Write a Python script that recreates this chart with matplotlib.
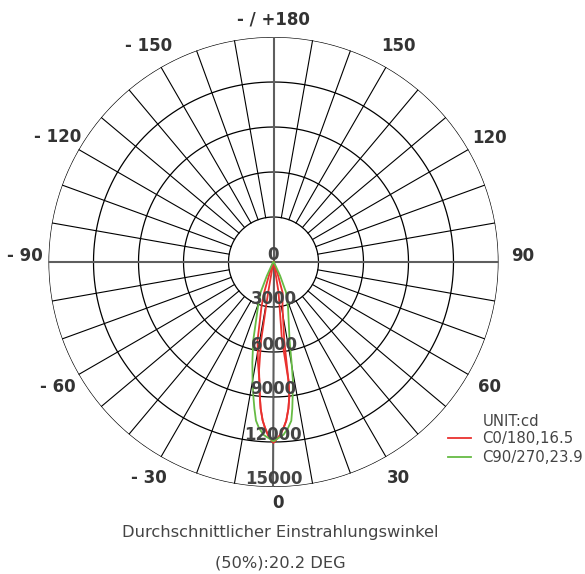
import numpy as np
import matplotlib
matplotlib.use("Agg")
import matplotlib.pyplot as plt
from matplotlib import transforms

# ---------------- data ----------------
ring_values = [0, 3000, 6000, 9000, 12000, 15000]
angle_ticks = [0, 30, 60, 90, 120, 150, 180, -150, -120, -90, -60, -30]
angle_labels = ["0", "30", "60", "90", "120", "150", "- / +180",
                "- 150", "- 120", "- 90", "- 60", "- 30"]

# C0/180 plane (two traces), gamma in degrees, intensity in cd
c0_a_gamma = [-90, -35, -21, -18.6, -17, -15, -11.5, -8.8, -6.8, -5.8, -5, -3.9,
              -2.9, -1.7, 0, 2, 3.45, 4.6, 5.8, 6.7, 7.2, 7.4, 7.8, 11.3, 16.5,
              18.6, 21, 35, 90]
c0_a_cd = [0, 50, 300, 990, 2150, 3100, 5330, 6780, 7960, 9020, 9820, 10600,
           11080, 11590, 12050, 11590, 11090, 10610, 9830, 9030, 7970, 6750,
           5270, 3060, 2150, 990, 300, 50, 0]

c0_b_gamma = [-90, -30, -12, -10.2, -10, -9, -7.6, -6.8, -5.8, -5, -3.9, -2.9,
              -1.7, 0, 2, 3.45, 4.6, 5.8, 6.7, 7.2, 6.2, 9.5, 10, 12, 30, 90]
c0_b_cd = [0, 0, 200, 950, 2040, 5290, 7300, 7960, 9020, 9820, 10600, 11080,
           11590, 12050, 11590, 11090, 10610, 9830, 9030, 7970, 5250, 2030,
           950, 200, 0, 0]

# C90/270 plane
c90_gamma = [-90, -40, -28, -25.6, -23, -19, -14.5, -11.9, -10, -8.5, -7.4, -6.3,
             -5, -3.3, 0, 3.3, 5, 6.4, 7.3, 8.1, 9.3, 10.2, 11.6, 17.9, 22.5,
             25.6, 28, 40, 90]
c90_cd = [0, 50, 350, 1030, 2190, 3190, 5390, 6840, 8030, 9075, 9870, 10640,
          11110, 11540, 11950, 11540, 11110, 10650, 9860, 9060, 8010, 6800,
          5330, 3150, 2170, 1030, 350, 50, 0]

legend_labels = ["C0/180,16.5", "C90/270,23.9"]
unit_text = "UNIT:cd"
caption_1 = "Durchschnittlicher Einstrahlungswinkel"
caption_2 = "(50%):20.2 DEG"

# ---------------- figure ----------------
W, H = 585, 574
fig = plt.figure(figsize=(W / 100, H / 100), dpi=100)
cx, cy, R = 273.5, 262.0, 225.0
ax = fig.add_axes([(cx - R) / W, (H - cy - R) / H, 2 * R / W, 2 * R / H],
                  projection="polar")
ax.set_theta_zero_location("S")
ax.set_theta_direction(1)
ax.set_rlim(0, 15000)
ax.grid(False)
ax.set_xticks([])
ax.set_yticks([])
ax.spines["polar"].set_visible(False)

full = np.linspace(0, 2 * np.pi, 721)
rmax = ring_values[-1]
rin = ring_values[1]

# rings
for r in ring_values[1:]:
    ax.plot(full, np.full_like(full, r), color="black", lw=0.9, zorder=1)

# spokes
for a in range(10, 360, 10):
    if a % 90 == 0:
        continue
    t = np.deg2rad(a)
    ax.plot([t, t], [rin, rmax], color="black", lw=0.8, zorder=1)

# main axes
for a in (0, 90, 180, 270):
    t = np.deg2rad(a)
    ax.plot([t, t], [0, rmax], color="#5e5e5e", lw=1.5, zorder=2)

# curves
red = "#e9312f"
green = "#66bb44"
l_red, = ax.plot(np.deg2rad(c0_a_gamma), c0_a_cd, color=red, lw=1.3, zorder=3)
ax.plot(np.deg2rad(c0_b_gamma), c0_b_cd, color=red, lw=1.3, zorder=3)
l_green, = ax.plot(np.deg2rad(c90_gamma), c90_cd, color=green, lw=1.3, zorder=4)

# radial labels
off = transforms.offset_copy(ax.transData, fig=fig, x=0, y=2.5, units="dots")
for v in ring_values:
    ax.text(0, v, f"{v}", transform=off, ha="center", va="baseline",
            fontsize=12, fontweight="bold", color="#444444", zorder=6)

# angle labels
for a, lab in zip(angle_ticks, angle_labels):
    rl = 16600
    dx, dy = 0, 0
    if a == 180:
        rl = 16200
    elif a == 0:
        rl = 16070
        dx = 5
    elif abs(a) == 90:
        dy = 6
    tr = transforms.offset_copy(ax.transData, fig=fig, x=dx, y=dy, units="dots")
    ax.text(np.deg2rad(a), rl, lab, transform=tr, ha="center", va="center",
            fontsize=12, fontweight="bold", color="#333333", clip_on=False)

# legend
fig.text(482.7 / W, 1 - 421.7 / H, unit_text, ha="left", va="center",
         fontsize=10.7, color="#444444")
ax.legend([l_red, l_green], legend_labels, loc="upper left",
          bbox_to_anchor=(447.7 / W, 1 - 431 / H), bbox_transform=fig.transFigure,
          frameon=False, fontsize=10.7, handlelength=1.6, handletextpad=0.75,
          labelspacing=0.3, borderpad=0, borderaxespad=0, labelcolor="#444444")

# captions
fig.text(280 / W, 1 - 533 / H, caption_1, ha="center", va="center",
         fontsize=11.7, color="#444444")
fig.text(280 / W, 1 - 563 / H, caption_2, ha="center", va="center",
         fontsize=11.7, color="#444444")

fig.savefig("out.png", dpi=100)
